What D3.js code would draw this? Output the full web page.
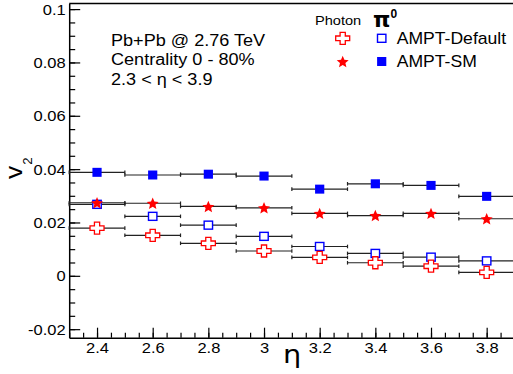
<!DOCTYPE html>
<html>
<head>
<meta charset="utf-8">
<script src="https://cdn.jsdelivr.net/npm/d3@7"></script>
<style>
  body { margin: 0; background: #fff; }
  svg { display: block; font-family: "Liberation Sans", Arial, sans-serif; }
</style>
</head>
<body>
<script>
// eta bin centres, each bin is +-0.1 wide
const etaBins = [2.4, 2.6, 2.8, 3.0, 3.2, 3.4, 3.6, 3.8];
const binHalf = 0.1;

const pi0SM        = [0.0388, 0.0378, 0.0381, 0.0374, 0.0325, 0.0345, 0.0339, 0.0298];
const photonSM     = [0.0274, 0.0272, 0.0260, 0.0255, 0.0234, 0.0226, 0.0234, 0.0214];
const pi0Default   = [0.0268, 0.0223, 0.0190, 0.0148, 0.0110, 0.0084, 0.0070, 0.0056];
const photonDefault= [0.0179, 0.0152, 0.0122, 0.0093, 0.0069, 0.0049, 0.0036, 0.0013];

const xTicks = [2.4, 2.6, 2.8, 3.0, 3.2, 3.4, 3.6, 3.8];
const xTickLabels = ["2.4", "2.6", "2.8", "3", "3.2", "3.4", "3.6", "3.8"];
const yTicks = [-0.02, 0, 0.02, 0.04, 0.06, 0.08, 0.1];
const yTickLabels = ["-0.02", "0", "0.02", "0.04", "0.06", "0.08", "0.1"];

const W = 513, H = 374, SX = 1.18;

const x = d3.scaleLinear().domain([2.3, 3.9]).range([69.2, 514.5]),
    y = d3.scaleLinear().domain([-0.0232, 0.1021]).range([337.7, 3.5]);

const svg = d3.select("body").append("svg").attr("width", W).attr("height", H);
svg.append("rect").attr("width", W).attr("height", H).attr("fill", "#fff");

// frame top line
svg.append("line").attr("x1", x(2.3)).attr("x2", x(3.9)).attr("y1", y(0.1021)).attr("y2", y(0.1021))
    .attr("stroke", "#000").attr("stroke-width", 1.3);

// minor ticks
const xMinor = d3.range(47).map(i => 2.3 + i * 0.05).filter(v => v <= 3.9001);
const yMinor = d3.range(25).map(i => -0.02 + i * 0.005);

svg.append("g").attr("transform", "translate(0," + y.range()[0] + ")")
    .call(d3.axisBottom(x).tickValues(xMinor).tickSizeInner(-5).tickSizeOuter(0).tickFormat(""))
    .call(g => g.select(".domain").remove());
svg.append("g").attr("transform", "translate(" + x.range()[0] + ",0)")
    .call(d3.axisLeft(y).tickValues(yMinor).tickSizeInner(-6).tickSizeOuter(0).tickFormat(""))
    .call(g => g.select(".domain").remove());

// major axes
const xAxis = svg.append("g").attr("transform", "translate(0," + y.range()[0] + ")")
    .call(d3.axisBottom(x).tickValues(xTicks).tickSizeInner(-10).tickSizeOuter(0)
        .tickFormat((d, i) => xTickLabels[i]));
xAxis.selectAll("text").attr("y", 0).attr("dy", null)
    .attr("transform", "translate(0,15.5) scale(" + SX + ",1)")
    .attr("font-size", 14).attr("fill", "#000");

const yAxis = svg.append("g").attr("transform", "translate(" + x.range()[0] + ",0)")
    .call(d3.axisLeft(y).tickValues(yTicks).tickSizeInner(-11).tickSizeOuter(0)
        .tickFormat((d, i) => yTickLabels[i]));
yAxis.selectAll("text").attr("x", 0).attr("dy", null)
    .attr("transform", "translate(-3.5,5) scale(" + SX + ",1)")
    .attr("font-size", 14).attr("fill", "#000");

svg.selectAll(".domain").attr("stroke", "#000").attr("stroke-width", 1.5);
svg.selectAll(".tick line").attr("stroke", "#000").attr("stroke-width", 1.2);

// axis titles
svg.append("text").attr("transform", "translate(22,179) rotate(-90) scale(1.1,1)")
    .attr("font-size", 24)
    .call(t => t.append("tspan").text("v"))
    .call(t => t.append("tspan").attr("font-size", 12).attr("dx", 1).attr("dy", 10).text("2"));

svg.append("text").attr("transform", "translate(283,363) scale(1.2,1)")
    .attr("font-family", "DejaVu Sans").attr("font-size", 24).text("η");

// text block
const info = ["Pb+Pb @ 2.76 TeV", "Centrality 0 - 80%", "2.3 < η < 3.9"];
info.forEach((s, i) => {
    svg.append("text").attr("transform", "translate(111," + (45.5 + i * 19.7) + ") scale(1.13,1)")
        .attr("font-size", 16).text(s);
});

// markers
const plot = svg.append("g");

function crossPath(cx, cy) {
    const ax = 2.6, ay = 2.3, lx = 7, ly = 6;
    return "M" + (cx - ax) + "," + (cy - ly) + "H" + (cx + ax) + "V" + (cy - ay) + "H" + (cx + lx) +
        "V" + (cy + ay) + "H" + (cx + ax) + "V" + (cy + ly) + "H" + (cx - ax) + "V" + (cy + ay) +
        "H" + (cx - lx) + "V" + (cy - ay) + "H" + (cx - ax) + "Z";
}
// five-pointed star, fatter than d3.symbolStar
function starPath(cx, cy, r) {
    const ri = r * 0.45, pts = [];
    for (let k = 0; k < 10; k++) {
        const a = -Math.PI / 2 + k * Math.PI / 5, rr = k % 2 ? ri : r;
        pts.push([cx + rr * Math.cos(a), cy + rr * Math.sin(a)]);
    }
    return "M" + pts.map(p => p.join(",")).join("L") + "Z";
}

function drawMarker(g, kind, cx, cy) {
    if (kind === "filledSquare") {
        g.append("rect").attr("x", cx - 4.6).attr("y", cy - 4.5).attr("width", 9.2).attr("height", 9)
            .attr("fill", "#0000ff");
    } else if (kind === "openSquare") {
        g.append("rect").attr("x", cx - 4.2).attr("y", cy - 4).attr("width", 8.4).attr("height", 8)
            .attr("fill", "#fff").attr("stroke", "#0000ff").attr("stroke-width", 1.4);
    } else if (kind === "star") {
        g.append("path").attr("d", starPath(cx, cy + 0.6, 6.3)).attr("fill", "#ff0000");
    } else if (kind === "cross") {
        g.append("path").attr("d", crossPath(cx, cy)).attr("fill", "#fff")
            .attr("stroke", "#ff0000").attr("stroke-width", 1.3);
    }
}

const series = [
    { values: pi0SM, kind: "filledSquare" },
    { values: pi0Default, kind: "openSquare" },
    { values: photonSM, kind: "star" },
    { values: photonDefault, kind: "cross" }
];

// error bars (bin widths)
series.forEach(s => {
    s.values.forEach((v, i) => {
        const x0 = x(etaBins[i] - binHalf), x1 = x(etaBins[i] + binHalf), yy = y(v);
        plot.append("line").attr("x1", x0).attr("x2", x1).attr("y1", yy).attr("y2", yy)
            .attr("stroke", "#222").attr("stroke-width", 1.2);
        [x0, x1].forEach(xe => plot.append("line").attr("x1", xe).attr("x2", xe)
            .attr("y1", yy - 1.8).attr("y2", yy + 1.8).attr("stroke", "#222").attr("stroke-width", 1.2));
    });
});
series.forEach(s => {
    s.values.forEach((v, i) => drawMarker(plot, s.kind, x(etaBins[i]), y(v)));
});

// legend
svg.append("text").attr("transform", "translate(315,25) scale(1.08,1)").attr("font-size", 13.5).text("Photon");
svg.append("text").attr("transform", "translate(373,27)").attr("font-weight", "bold")
    .call(t => t.append("tspan").attr("font-size", 22).attr("font-family", "DejaVu Sans").text("π"))
    .call(t => t.append("tspan").attr("font-size", 12).attr("dy", -9).text("0"));

const legend = [
    { photon: "cross", pi0: "openSquare", label: "AMPT-Default", y: 38.3 },
    { photon: "star", pi0: "filledSquare", label: "AMPT-SM", y: 61.5 }
];
legend.forEach(l => {
    drawMarker(svg, l.photon, 342.7, l.y);
    drawMarker(svg, l.pi0, 381.7, l.y);
    svg.append("text").attr("transform", "translate(396.7," + (l.y + 5.8) + ") scale(1.1,1)")
        .attr("font-size", 16).text(l.label);
});
</script>
</body>
</html>
